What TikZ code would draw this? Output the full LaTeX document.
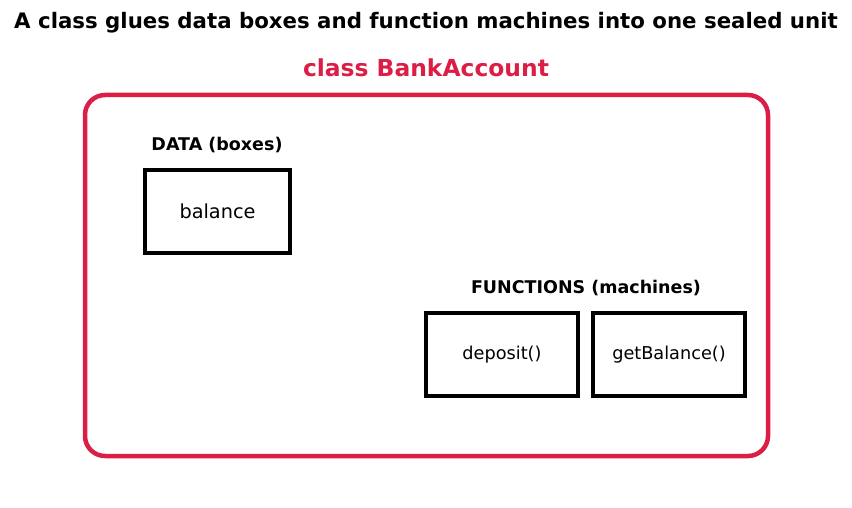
\documentclass[tikz,border=0pt]{standalone}
\usepackage{fontspec}
\setmainfont{DejaVu Sans}
\definecolor{crim}{RGB}{220,30,70}
\begin{document}
\begin{tikzpicture}[x=1pt,y=-1pt,
  box/.style={draw=black,line width=4.5pt,inner sep=0pt},
  lbl/.style={font=\bfseries\fontsize{17.5}{21}\selectfont}]
\useasboundingbox (0,0) rectangle (852,508);
\node[font=\bfseries\fontsize{21.3}{25}\selectfont] (title) at (426,23) {A class glues data boxes and function machines into one sealed unit};
\node[font=\bfseries\fontsize{23.4}{28}\selectfont,text=crim] (cls) at (426,68) {class BankAccount};
\draw[crim,line width=4.5pt,rounded corners=20pt] (85,95) rectangle (768,456);
\node[lbl] (data) at (217,145) {DATA (boxes)};
\node[box,minimum width=145pt,minimum height=83pt,font=\fontsize{19.3}{23}\selectfont] (bal) at (217.5,211.5) {balance};
\node[lbl] (fun) at (586,288) {FUNCTIONS (machines)};
\node[box,minimum width=152pt,minimum height=83pt,font=\fontsize{17.7}{21}\selectfont] (dep) at (502,354.5) {deposit()};
\node[box,minimum width=152pt,minimum height=83pt,font=\fontsize{17.7}{21}\selectfont] (get) at (669,354.5) {getBalance()};
\end{tikzpicture}
\end{document}
